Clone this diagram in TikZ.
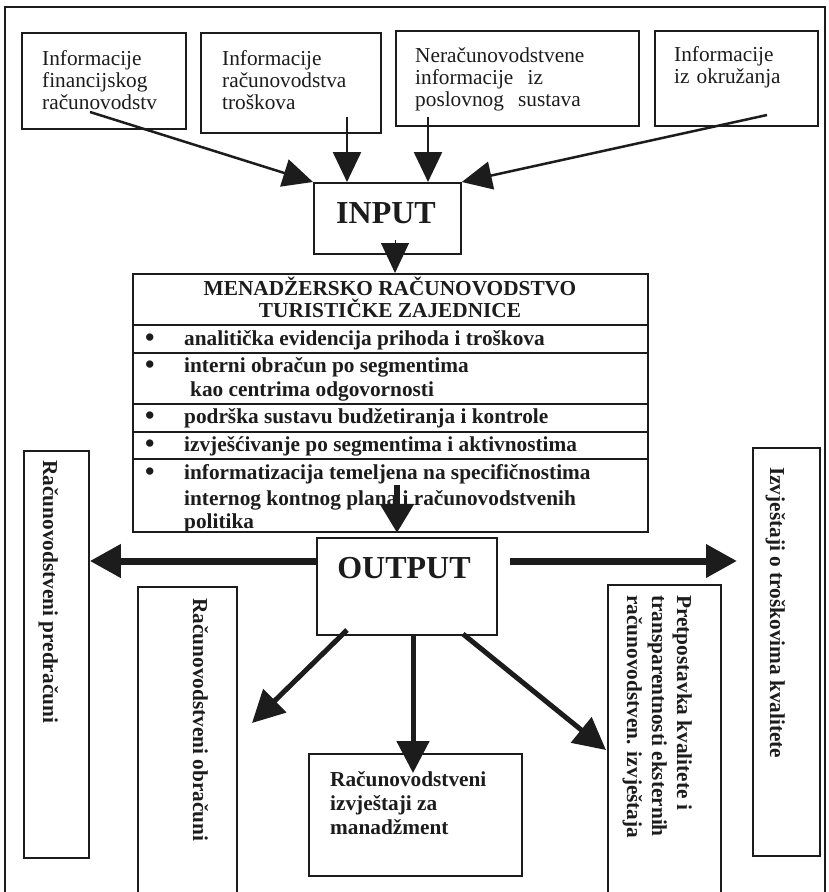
\documentclass[tikz,border=0pt]{standalone}
\usepackage{fontspec}
\setmainfont{Liberation Serif}
\usetikzlibrary{arrows.meta}
\definecolor{ink}{RGB}{28,28,28}
\newcommand{\nrmtxt}{\fontsize{21.3}{22}\selectfont}
\newcommand{\boldtxt}{\fontsize{21.3}{22}\selectfont\bfseries}
\newcommand{\iotxt}{\fontsize{32}{34}\selectfont\bfseries}
\newcommand{\bul}{\makebox[39pt][l]{\raisebox{-1.5pt}{\fontsize{27}{22}\selectfont\textbullet}}}
\begin{document}
\begin{tikzpicture}[x=1pt,y=-1pt,
  bx/.style={draw=ink,line width=1.8pt,inner sep=0pt,anchor=north west},
  tx/.style={inner sep=0pt,anchor=base west,text=ink,align=left},
  ctx/.style={inner sep=0pt,anchor=base,text=ink},
  vt/.style={inner sep=0pt,anchor=base west,rotate=-90,text=ink,font=\boldtxt},
  thinarrow/.style={draw=ink,line width=2.5pt,-{Triangle[length=30pt,width=28pt]}},
  headarrow/.style={draw=ink,line width=1pt,-{Triangle[length=30pt,width=28pt]}},
  wideArrow/.style={draw=ink,line width=7pt,-{Triangle[length=31pt,width=32pt]}},
  midArrow/.style={draw=ink,line width=5pt,-{Triangle[length=32pt,width=32pt]}},
]
\useasboundingbox (0,0) rectangle (828,892);
\clip (0,0) rectangle (828,892);
\fill[white] (0,0) rectangle (828,892);

% outer frame
\draw[draw=ink,line width=2pt] (5,900) -- (5,7) -- (825,7) -- (825,900);

% top boxes
\node[bx,minimum width=164pt,minimum height=96pt] (f1) at (21,32) {};
\node[tx,font=\nrmtxt,text width=150pt] (f1t) at (42,65) {Informacije\\financijskog\\računovodstv};
\node[bx,minimum width=180pt,minimum height=100pt] (f2) at (200,32) {};
\node[tx,font=\nrmtxt,text width=150pt] (f2t) at (222,65) {Informacije\\računovodstva\\troškova};
\node[bx,minimum width=243pt,minimum height=95pt] (f3) at (395,30) {};
\node[tx,font=\nrmtxt,text width=220pt] (f3t) at (415,62) {Neračunovodstvene\\informacije\ \ iz\\poslovnog\ \ sustava};
\node[bx,minimum width=163pt,minimum height=95pt] (f4) at (654,30) {};
\node[tx,font=\nrmtxt,text width=140pt] (f4t) at (674,61) {Informacije\\iz okružanja};

% INPUT
\node[bx,minimum width=147pt,minimum height=71pt] (inp) at (313,182) {};
\node[ctx,font=\iotxt] (inpt) at (386,223) {INPUT};

% main box rows
\node[bx,minimum width=515pt,minimum height=51pt] (m0) at (132,273) {};
\node[bx,minimum width=515pt,minimum height=28pt] (m1) at (132,324) {};
\node[bx,minimum width=515pt,minimum height=51pt] (m2) at (132,352) {};
\node[bx,minimum width=515pt,minimum height=28pt] (m3) at (132,403) {};
\node[bx,minimum width=515pt,minimum height=27pt] (m4) at (132,431) {};
\node[bx,minimum width=515pt,minimum height=73pt] (m5) at (132,458) {};

\node[ctx,font=\boldtxt] (m0a) at (390,295) {MENADŽERSKO RAČUNOVODSTVO};
\node[ctx,font=\boldtxt] (m0b) at (390,317) {TURISTIČKE ZAJEDNICE};
\node[tx,font=\boldtxt] (m1a) at (145,345) {\bul analitička evidencija prihoda i troškova};
\node[tx,font=\boldtxt] (m2a) at (145,372) {\bul interni obračun po segmentima};
\node[tx,font=\boldtxt] (m2b) at (190,396) {kao centrima odgovornosti};
\node[tx,font=\boldtxt] (m3a) at (145,423) {\bul podrška sustavu budžetiranja i kontrole};
\node[tx,font=\boldtxt] (m4a) at (145,451) {\bul izvješćivanje po segmentima i aktivnostima};
\node[tx,font=\boldtxt] (m5a) at (145,479) {\bul informatizacija temeljena na specifičnostima};
\node[tx,font=\boldtxt] (m5b) at (184,505) {internog kontnog plana i računovodstvenih};
\node[tx,font=\boldtxt] (m5c) at (184,528) {politika};

% OUTPUT
\node[bx,minimum width=180pt,minimum height=97pt] (out) at (316,537) {};
\node[ctx,font=\iotxt] (outt) at (404,578) {OUTPUT};

% side and bottom boxes
\node[bx,minimum width=65pt,minimum height=407pt] (pr) at (23,450) {};
\node[vt] (prt) at (43,460) {Računovodstveni predračuni};
\node[bx,minimum width=67pt,minimum height=408pt] (iz) at (752,447) {};
\node[vt] (izt) at (770,467) {Izvještaji o troškovima kvalitete};
\node[bx,minimum width=99pt,minimum height=320pt] (ob) at (137,586) {};
\node[vt] (obt) at (193,598) {Računovodstveni obračuni};
\node[bx,minimum width=213pt,minimum height=122pt] (mz) at (308,753) {};
\node[tx,font=\boldtxt] (mza) at (330,786) {Računovodstveni};
\node[tx,font=\boldtxt] (mzb) at (330,810) {izvještaji za};
\node[tx,font=\boldtxt] (mzc) at (330,834) {manadžment};
\node[bx,minimum width=113pt,minimum height=320pt] (pp) at (607,584) {};
\node[vt] (ppa) at (677,595) {Pretpostavka kvalitete i};
\node[vt] (ppb) at (652,595) {transparentnosti eksternih};
\node[vt] (ppc) at (627,595) {računovodstven. izvještaja};

% arrows into INPUT
\coordinate (s1) at (90,112);
\coordinate (s2) at (347,117);
\coordinate (s3) at (428,117);
\coordinate (s4) at (767,115);
\draw[thinarrow] (s1) -- (inp.north west);
\draw[thinarrow] (s2) -- (s2 |- inp.north);
\draw[thinarrow] (s3) -- (s3 |- inp.north);
\draw[thinarrow] (s4) -- (inp.north east);

% INPUT -> main
\coordinate (c1) at (395,240);
\draw[headarrow] (c1) -- (c1 |- m0.north);

% main -> OUTPUT
\coordinate (c2) at (397,485);
\draw[draw=ink,line width=6pt,-{Triangle[length=29pt,width=33pt]}] (c2) -- (c2 |- m5.south);

% OUTPUT -> sides
\coordinate (c3) at (316,561);
\draw[wideArrow] (c3) -- (c3 -| pr.east);
\coordinate (c4) at (510,561);
\coordinate (c5) at (737,561);
\draw[wideArrow] (c4) -- (c5);

% OUTPUT -> bottom
\coordinate (d1) at (347,630);
\coordinate (d1e) at (252,723);
\draw[midArrow] (d1) -- (d1e);
\coordinate (d2) at (413,634);
\coordinate (d2e) at (413,773);
\draw[midArrow] (d2) -- (d2e);
\coordinate (d3) at (463,634);
\coordinate (d3e) at (606,750);
\draw[midArrow] (d3) -- (d3e);
\end{tikzpicture}
\end{document}
